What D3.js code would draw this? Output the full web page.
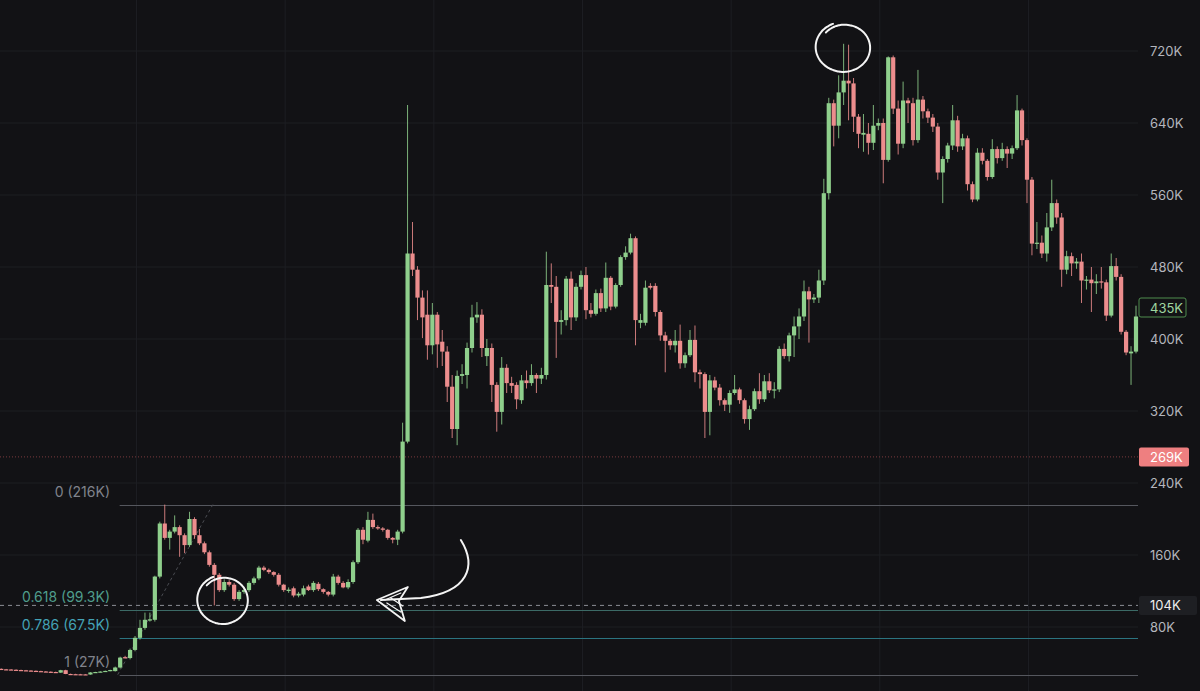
<!DOCTYPE html>
<html><head><meta charset="utf-8">
<script src="https://cdn.jsdelivr.net/npm/d3@7"></script>
<style>html,body{margin:0;padding:0;background:#121215;overflow:hidden}</style>
</head><body>
<svg id="c" width="1200" height="691"></svg>
<script>
// ---- DATA (values in K) ----
const open = [33.5,33.0,32.8,32.5,32.2,31.9,31.6,31.3,31.0,30.6,30.3,30.0,29.3,32.0,27.8,27.6,27.5,27.4,27.2,29.5,30.0,30.5,31.2,31.0,35.0,46.5,45.5,54.5,68,79,87.5,88,136,195,179,186,191,182,171,200,182,173,163,149,138,121,130,127,111,119,121,129,134,146,143.5,141,138,127,120,123,115,116,125,121,128,122,119,116,136,129,124,130,152,188,176,199,191,189.5,188,179,177,186,286,495,477,446,427,393,427,397,386,347,300,359,360,390,424,427,381,390,349,319,368,351,349,332,354,351,360,356,360,460,458,419,421,467,424,458,471,432,428,451,434,468,436,460,491,496,512,418,418,459,459,430,404,398,393,398,373,382,399,363,361,319,354,346,332,327,340,344,332,311,322,342,333,353,343,344,389,381,404,414,425,453,444,446,465,562,662,637,674,687,684,647,627,628,618,637,640,599,713,656,617,665,662,621,666,653,646,636,585,600,615,643,614,623,572,555,607,598,580,611,601,611,606,612,654,621,577,506,507,495,524,551,535,477,492,484,486,465,466,462,464,463,426,481,469,408,384,386];
const high = [34,33.4,33.2,32.9,32.6,32.3,32.0,31.7,31.4,31.0,30.7,30.4,32.4,32.5,28.2,28.0,27.9,27.8,29.8,30.2,30.8,31.5,32.5,36,47,48,56,70,88,96,96,137,197,216,188,204,193,184,208,202,189,175,165,151,140,133,132,129,121,123,131,136,148,148,145,142,140,128,124,125,119,126,127,131,130,123,120,139,138,131,133,154,190,191,208,206,193,191,189,180,188,307,660,530,481,454,454,440,430,410,392,360,365,372,396,438,441,433,400,395,352,380,372,358,352,360,365,372,362,368,497,484,470,432,470,475,462,476,480,440,455,456,485,470,462,493,503,517,514,428,465,462,462,432,408,400,410,416,385,410,415,366,363,360,358,350,334,343,360,346,334,326,345,362,360,362,352,392,395,407,425,434,465,458,450,477,578,668,666,693,728,727,690,650,650,640,660,645,645,714,715,665,686,668,668,699,670,656,650,640,603,618,660,648,628,626,575,612,612,600,622,614,618,614,615,671,656,623,580,530,515,540,577,555,540,498,496,490,495,470,480,472,480,466,495,490,472,410,392,437];
const low = [32.8,32.5,32.2,31.9,31.6,31.3,31.0,30.7,30.3,30.0,29.6,29.3,29.0,27.6,27.3,27.2,27.1,27.0,27.0,29.2,29.7,30.2,30.8,30.5,34,45,44,53,66,77,86,86,134,177,166,184,158,162,169,178,171,161,147,104,119,119,125,109,109,117,119,127,132,142,139,136,125,119,118,113,113,114,120,119,120,117,114,114,127,123,122,128,150,172,174,189,188,186,177,173,171,184,284,470,421,401,377,383,368,370,330,290,282,350,345,385,418,380,370,330,297,305,340,340,322,328,345,348,340,350,355,440,379,405,415,410,420,455,422,424,426,430,430,432,434,458,488,494,393,412,415,455,425,398,363,388,385,367,368,380,352,345,290,293,343,326,320,318,338,328,306,299,320,328,330,340,334,341,378,375,380,400,420,396,440,440,460,555,614,623,660,643,630,612,608,605,610,632,573,597,650,605,612,640,615,618,645,640,630,577,551,596,610,608,610,565,552,553,594,576,578,595,598,590,600,610,615,551,493,500,490,486,520,528,458,472,470,478,440,455,430,450,456,420,424,465,405,382,349,384];
const close = [33.0,32.8,32.5,32.2,31.9,31.6,31.3,31.0,30.6,30.3,30.0,29.6,32.0,27.8,27.6,27.5,27.4,27.2,29.5,30.0,30.5,31.2,32.2,35,46,45.5,54.5,68,79,88,88.5,136,195,179,186,191,182,171,200,182,173,163,149,138,121,130,127,111,119,121,129,134,146,143.5,141,138,127,121,121.5,115,117,123,121,129,122,119,116,136,129,124,130,152,188,177,199,191,189.5,188,179,177,186,286,495,477,446,424,393,427,394,386,347,300,359,361,390,424,427,390,390,349,319,368,351,348,333,354,351,360,356,360,460,458,419,421,467,424,458,471,432,428,451,434,468,436,460,491,496,512,421,421,457,457,430,404,398,393,398,373,382,399,363,361,319,354,346,332,327,340,344,332,311,322,342,333,353,343,344,389,381,404,414,425,453,444,446,465,562,662,637,674,687,684,647,628,629,618,637,640,599,713,656,617,665,662,621,666,653,646,636,585,600,615,643,614,623,572,555,607,598,580,611,601,611,606,612,654,621,577,506,507,495,524,551,535,477,492,484,486,465,466,462,464,463,426,481,469,408,385,386,425];

const yTicks = [80,160,240,320,400,480,560,640,720];
const fibValues = [216, 99.3, 67.5, 27];
const fibLabels = ["0 (216K)", "0.618 (99.3K)", "0.786 (67.5K)", "1 (27K)"];
const fibStartIndex = 23.9;
const fibTrend = [{i: 23.5, v: 27}, {i: 42.7, v: 216}];
const lowMarker = 104, alertMarker = 269, lastPrice = 435;
const timeGridIdx = [27.3, 57.3, 87.3, 117.3, 147.3, 177.3, 207.3];
const circleMarks = [{i: 170, v: 724.5, rx: 28, ry: 25}, {i: 44.8, v: 110.5, rx: 26, ry: 24.5}];
const arrowTip = {i: 75.8, v: 110};

// ---- LAYOUT ----
const W = 1200, H = 691, plotRight = 1138;
const svg = d3.select("#c");
const n = open.length;
const x = d3.scaleLinear().domain([0, 229]).range([1.24, 1136]);
const y = d3.scaleLinear().domain([0, 720]).range([699, 51]);
const up = "#8fcf8c", dn = "#ec8d8d";
const FONT = "Inter, 'Noto Sans', sans-serif";

svg.append("rect").attr("width", W).attr("height", H).attr("fill", "#121215");

// grid
svg.append("g").selectAll("line").data(yTicks).join("line")
  .attr("x1", 0).attr("x2", plotRight).attr("y1", d => y(d)).attr("y2", d => y(d))
  .attr("stroke", "#1d1e23").attr("stroke-width", 1);
svg.append("g").selectAll("line").data(timeGridIdx).join("line")
  .attr("x1", d => x(d)).attr("x2", d => x(d)).attr("y1", 0).attr("y2", H)
  .attr("stroke", "#1d1e23").attr("stroke-width", 1);

// fib levels
const fibLine = ["#55575e", "#3c6a66", "#2b7480", "#55575e"];
const fibText = ["#80838c", "#4f9d8c", "#44a2b6", "#80838c"];
const fg = svg.append("g");
fibValues.forEach((v, k) => {
  fg.append("line").attr("x1", x(fibStartIndex)).attr("x2", plotRight)
    .attr("y1", Math.round(y(v)) + 0.5).attr("y2", Math.round(y(v)) + 0.5)
    .attr("stroke", fibLine[k]).attr("stroke-width", 1.2);
  fg.append("text").attr("x", 110).attr("y", y(v) - 8).attr("text-anchor", "end")
    .attr("font-family", FONT).attr("font-size", 14).attr("fill", fibText[k]).text(fibLabels[k]);
});
svg.append("line")
  .attr("x1", x(fibTrend[0].i)).attr("y1", y(fibTrend[0].v))
  .attr("x2", x(fibTrend[1].i)).attr("y2", y(fibTrend[1].v))
  .attr("stroke", "#4a4c52").attr("stroke-dasharray", "3,3").attr("stroke-width", 1);

// marker lines
svg.append("line").attr("x1", 0).attr("x2", plotRight).attr("y1", y(alertMarker)).attr("y2", y(alertMarker))
  .attr("stroke", "#7a3a3d").attr("stroke-dasharray", "1,2").attr("stroke-width", 1);
svg.append("line").attr("x1", 0).attr("x2", plotRight).attr("y1", y(lowMarker)).attr("y2", y(lowMarker))
  .attr("stroke", "#8b8d94").attr("stroke-dasharray", "4,4").attr("stroke-width", 1);

// candles
const idx = d3.range(n);
const bw = 4.2;
const cg = svg.append("g");
cg.selectAll("line").data(idx).join("line")
  .attr("x1", i => x(i)).attr("x2", i => x(i))
  .attr("y1", i => y(high[i])).attr("y2", i => y(low[i]))
  .attr("stroke", i => close[i] >= open[i] ? up : dn).attr("stroke-width", 1).attr("opacity", 0.85);
cg.selectAll("rect").data(idx).join("rect")
  .attr("x", i => x(i) - bw / 2).attr("width", bw)
  .attr("y", i => y(Math.max(open[i], close[i])))
  .attr("height", i => Math.max(1.2, Math.abs(y(open[i]) - y(close[i]))))
  .attr("fill", i => close[i] >= open[i] ? up : dn);

// axis labels
svg.append("g").selectAll("text").data(yTicks).join("text")
  .attr("x", 1150).attr("y", d => y(d)).attr("dominant-baseline", "central")
  .attr("font-family", FONT).attr("font-size", 13).attr("fill", "#b4b6bd").text(d => d + "K");

// price boxes
function box(v, fill, stroke, tcol, w) {
  const g = svg.append("g");
  g.append("rect").attr("x", 1139).attr("y", y(v) - 9.5).attr("width", w).attr("height", 19).attr("rx", 2)
    .attr("fill", fill).attr("stroke", stroke || "none");
  g.append("text").attr("x", 1150).attr("y", y(v)).attr("dominant-baseline", "central")
    .attr("font-family", FONT).attr("font-size", 13).attr("fill", tcol).text(v + "K");
}
box(lowMarker, "#1e1f23", null, "#eeeeee", 58);
box(alertMarker, "#ee7f80", null, "#ffffff", 50);
box(lastPrice, "#121215", "#4e8c4f", "#9fd59f", 47);

// hand-drawn annotations
const ann = svg.append("g").attr("fill", "none").attr("stroke", "#f4f4f4").attr("stroke-width", 2)
  .attr("stroke-linecap", "round").attr("stroke-linejoin", "round");
circleMarks.forEach(c => {
  const cx = x(c.i), cy = y(c.v);
  const pts = d3.range(0, 1.08, 0.01).map(t => {
    const a = -2.4 + t * Math.PI * 2;
    const s = 0.86 + 0.14 * Math.min(1, t * 1.6);
    return [cx + Math.cos(a) * c.rx * s, cy + Math.sin(a) * c.ry * s];
  });
  ann.append("path").attr("d", d3.line().curve(d3.curveBasis)(pts));
});
const tx = x(arrowTip.i), ty = y(arrowTip.v);
ann.append("path").attr("d",
  `M${tx + 84},${ty - 60} C${tx + 100},${ty - 34} ${tx + 92},${ty - 8} ${tx + 44},${ty - 2} L${tx + 4},${ty}`);
ann.append("path").attr("d",
  `M${tx},${ty} L${tx + 31},${ty - 13} L${tx + 22},${ty + 1} L${tx + 28},${ty + 21} Z`)
  .attr("stroke-width", 1.8);
ann.append("path").attr("d",
  `M${tx + 8},${ty} L${tx + 24},${ty - 7} M${tx + 10},${ty + 3} L${tx + 24},${ty + 12} M${tx + 14},${ty - 2} L${tx + 26},${ty + 6}`)
  .attr("stroke-width", 1.2);
</script>
</body></html>
